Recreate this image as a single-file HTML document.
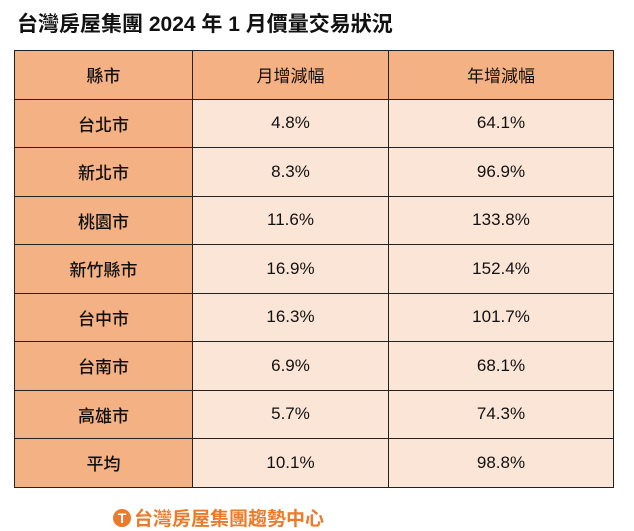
<!DOCTYPE html>
<html><head><meta charset="utf-8"><style>
body{margin:0;width:634px;height:530px;background:#fff;font-family:"Liberation Sans","Noto Sans CJK TC",sans-serif;position:relative;overflow:hidden}
.t{position:absolute;left:17px;top:8px;font-size:21px;font-weight:bold;color:#111;white-space:nowrap}
table{position:absolute;left:14px;top:50px;border-collapse:collapse;table-layout:fixed}
tr{height:48.5px}
td{border:1.5px solid #222;text-align:center;font-size:17px;color:#111;padding:0;vertical-align:middle}
td.a{background:#f4b183;width:177px;font-weight:500}
td.b{background:#fbe5d6;width:195px}
td.c{background:#fbe5d6;width:224px}
tr.h td{background:#f4b183}
.logo{position:absolute;left:113px;top:504px;font-size:19px;font-weight:bold;color:#ec7a2a;white-space:nowrap;display:flex;align-items:center}
.ic{width:18px;height:18px;border-radius:50%;background:#ec7a2a;color:#fff;font-size:14px;line-height:18px;text-align:center;margin-right:3px}
</style></head><body>
<div class="t">台灣房屋集團 2024 年 1 月價量交易狀況</div>
<table>
<tr class="h"><td class="a">縣市</td><td class="b">月增減幅</td><td class="c">年增減幅</td></tr>
<tr><td class="a">台北市</td><td class="b">4.8%</td><td class="c">64.1%</td></tr>
<tr><td class="a">新北市</td><td class="b">8.3%</td><td class="c">96.9%</td></tr>
<tr><td class="a">桃園市</td><td class="b">11.6%</td><td class="c">133.8%</td></tr>
<tr><td class="a">新竹縣市</td><td class="b">16.9%</td><td class="c">152.4%</td></tr>
<tr><td class="a">台中市</td><td class="b">16.3%</td><td class="c">101.7%</td></tr>
<tr><td class="a">台南市</td><td class="b">6.9%</td><td class="c">68.1%</td></tr>
<tr><td class="a">高雄市</td><td class="b">5.7%</td><td class="c">74.3%</td></tr>
<tr><td class="a">平均</td><td class="b">10.1%</td><td class="c">98.8%</td></tr>
</table>
<div class="logo"><div class="ic">T</div>台灣房屋集團趨勢中心</div>
</body></html>
